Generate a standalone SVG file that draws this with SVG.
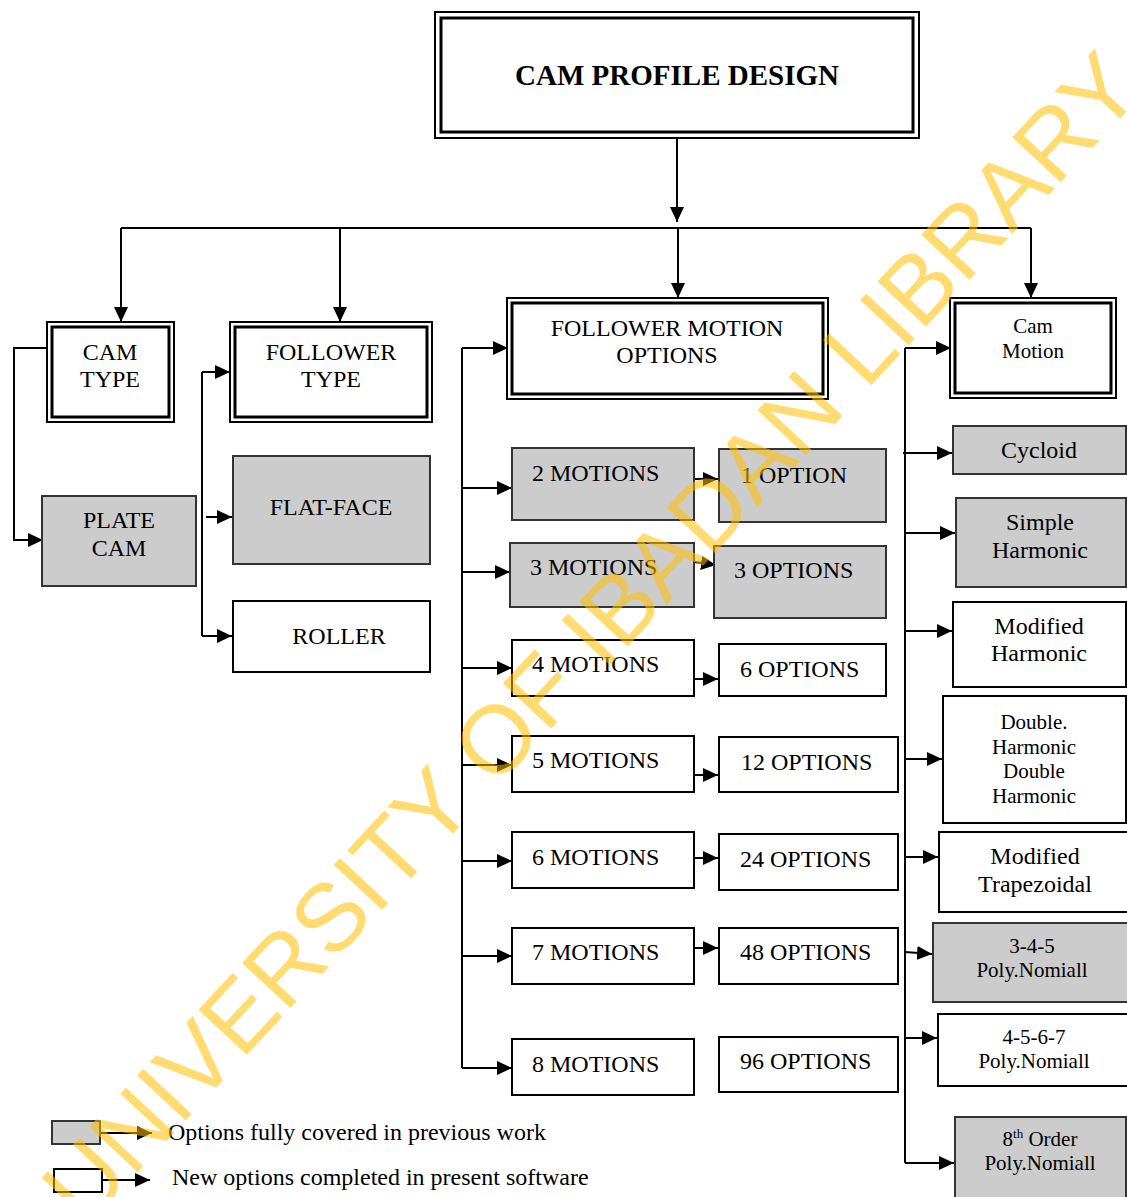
<svg xmlns="http://www.w3.org/2000/svg" width="1127" height="1197" viewBox="0 0 1127 1197">
<defs>
<style>
.t{font-family:"Liberation Serif","Times New Roman",serif;font-size:24px;fill:#000}
.s{font-family:"Liberation Serif","Times New Roman",serif;font-size:21px;fill:#000}
.m{text-anchor:middle}
.o{fill:#fff;stroke:#000;stroke-width:2}
.i{fill:none;stroke:#000;stroke-width:3}
.g{fill:#cccccc;stroke:#333;stroke-width:2}
.w{fill:#fff;stroke:#000;stroke-width:2}
.c{fill:none;stroke:#000;stroke-width:2}
.a{fill:none;stroke:#000;stroke-width:2;marker-end:url(#ah)}
</style>
<marker id="ah" markerUnits="userSpaceOnUse" markerWidth="16" markerHeight="14" refX="15" refY="7" orient="auto">
<path d="M0,0 L15,7 L0,14 z" fill="#000"/>
</marker>
</defs>
<rect width="1127" height="1197" fill="#fff"/>

<g id="connectors">
<path class="a" d="M677,139 V222"/>
<path class="c" d="M121,228 H1031"/>
<path class="a" d="M121,228 V322"/>
<path class="a" d="M340,228 V322"/>
<path class="a" d="M678,228 V298"/>
<path class="a" d="M1031,228 V298"/>
<path class="a" d="M47,348 H14 V540 H43"/>
<path class="c" d="M202,372 V636"/>
<path class="a" d="M202,372 H230"/>
<path class="a" d="M206,517 H232"/>
<path class="a" d="M202,636 H232"/>
<path class="c" d="M462,348 V1068"/>
<path class="a" d="M462,348 H508"/>
<path class="a" d="M462,488 H512"/>
<path class="a" d="M462,572 H510"/>
<path class="a" d="M462,668 H512"/>
<path class="a" d="M462,765 H512"/>
<path class="a" d="M462,861 H512"/>
<path class="a" d="M462,956 H512"/>
<path class="a" d="M462,1068 H512"/>
<path class="a" d="M694,479 H718"/>
<path class="a" d="M694,562 L716,565"/>
<path class="a" d="M694,679 H718"/>
<path class="a" d="M694,775 H718"/>
<path class="a" d="M694,858 H718"/>
<path class="a" d="M694,948 H718"/>
<path class="c" d="M905,348 V1163"/>
<path class="a" d="M905,348 H951"/>
<path class="a" d="M903,453 H952"/>
<path class="a" d="M905,533 H955"/>
<path class="a" d="M905,631 H952"/>
<path class="a" d="M905,759 H942"/>
<path class="a" d="M905,857 H938"/>
<path class="a" d="M905,952 L932,954"/>
<path class="a" d="M905,1038 H937"/>
<path class="a" d="M905,1163 H954"/>
<path class="a" d="M100,1133 H152"/>
<path class="a" d="M102,1180 H150"/>
</g>

<g id="n-title">
<rect class="o" x="435" y="12" width="484" height="126"/>
<rect class="i" x="441" y="18" width="472" height="114"/>
<text x="677" y="85" class="m" style="font-family:'Liberation Serif','Times New Roman',serif;font-size:29px;font-weight:bold">CAM PROFILE DESIGN</text>
</g>

<g id="n-camtype">
<rect class="o" x="47" y="322" width="127" height="100"/>
<rect class="i" x="52" y="327" width="117" height="90"/>
<text class="t m" x="110" y="360">CAM</text>
<text class="t m" x="110" y="387">TYPE</text>
</g>

<g id="n-followertype">
<rect class="o" x="230" y="322" width="202" height="100"/>
<rect class="i" x="235" y="327" width="192" height="90"/>
<text class="t m" x="331" y="360">FOLLOWER</text>
<text class="t m" x="331" y="387">TYPE</text>
</g>

<g id="n-fmo">
<rect class="o" x="507" y="298" width="321" height="101"/>
<rect class="i" x="512" y="303" width="311" height="91"/>
<text class="t m" x="667" y="336">FOLLOWER MOTION</text>
<text class="t m" x="667" y="363">OPTIONS</text>
</g>

<g id="n-cammotion">
<rect class="o" x="950" y="298" width="166" height="100"/>
<rect class="i" x="955" y="303" width="156" height="90"/>
<text class="s m" x="1033" y="333">Cam</text>
<text class="s m" x="1033" y="358">Motion</text>
</g>

<g id="n-platecam">
<rect class="g" x="42" y="496" width="154" height="90"/>
<text class="t m" x="119" y="528">PLATE</text>
<text class="t m" x="119" y="556">CAM</text>
</g>

<g id="n-flatface">
<rect class="g" x="233" y="456" width="197" height="108"/>
<text class="t m" x="331" y="515">FLAT-FACE</text>
</g>

<g id="n-roller">
<rect class="w" x="233" y="601" width="197" height="71"/>
<text class="t m" x="339" y="644">ROLLER</text>
</g>

<g id="n-m2">
<rect class="g" x="512" y="448" width="182" height="72"/>
<text class="t" x="532" y="481">2 MOTIONS</text>
</g>
<g id="n-o1">
<rect class="g" x="719" y="449" width="167" height="73"/>
<text class="t" x="741" y="483">1 OPTION</text>
</g>
<g id="n-m3">
<rect class="g" x="510" y="543" width="184" height="64"/>
<text class="t" x="530" y="575">3 MOTIONS</text>
</g>
<g id="n-o3">
<rect class="g" x="714" y="546" width="172" height="72"/>
<text class="t" x="734" y="578">3 OPTIONS</text>
</g>
<g id="n-m4">
<rect class="w" x="512" y="640" width="182" height="56"/>
<text class="t" x="532" y="672">4 MOTIONS</text>
</g>
<g id="n-o6">
<rect class="w" x="719" y="644" width="167" height="52"/>
<text class="t" x="740" y="677">6 OPTIONS</text>
</g>
<g id="n-m5">
<rect class="w" x="512" y="736" width="182" height="56"/>
<text class="t" x="532" y="768">5 MOTIONS</text>
</g>
<g id="n-o12">
<rect class="w" x="719" y="737" width="179" height="55"/>
<text class="t" x="741" y="770">12 OPTIONS</text>
</g>
<g id="n-m6">
<rect class="w" x="512" y="832" width="182" height="56"/>
<text class="t" x="532" y="865">6 MOTIONS</text>
</g>
<g id="n-o24">
<rect class="w" x="719" y="834" width="179" height="56"/>
<text class="t" x="740" y="867">24 OPTIONS</text>
</g>
<g id="n-m7">
<rect class="w" x="512" y="928" width="182" height="56"/>
<text class="t" x="532" y="960">7 MOTIONS</text>
</g>
<g id="n-o48">
<rect class="w" x="719" y="928" width="179" height="56"/>
<text class="t" x="740" y="960">48 OPTIONS</text>
</g>
<g id="n-m8">
<rect class="w" x="512" y="1039" width="182" height="56"/>
<text class="t" x="532" y="1072">8 MOTIONS</text>
</g>
<g id="n-o96">
<rect class="w" x="719" y="1037" width="179" height="55"/>
<text class="t" x="740" y="1069">96 OPTIONS</text>
</g>

<g id="n-cycloid">
<rect class="g" x="953" y="426" width="173" height="48"/>
<text class="t m" x="1039" y="458">Cycloid</text>
</g>
<g id="n-simple">
<rect class="g" x="956" y="498" width="170" height="89"/>
<text class="t m" x="1040" y="530">Simple</text>
<text class="t m" x="1040" y="558">Harmonic</text>
</g>
<g id="n-modharm">
<rect class="w" x="953" y="602" width="173" height="85"/>
<text class="t m" x="1039" y="634">Modified</text>
<text class="t m" x="1039" y="661">Harmonic</text>
</g>
<g id="n-double">
<rect class="w" x="943" y="696" width="183" height="127"/>
<text class="s m" x="1034" y="729">Double.</text>
<text class="s m" x="1034" y="754">Harmonic</text>
<text class="s m" x="1034" y="778">Double</text>
<text class="s m" x="1034" y="803">Harmonic</text>
</g>
<g id="n-trap">
<rect class="w" x="939" y="832" width="192" height="80"/>
<text class="t m" x="1035" y="864">Modified</text>
<text class="t m" x="1035" y="892">Trapezoidal</text>
</g>
<g id="n-345">
<rect class="g" x="933" y="923" width="198" height="79"/>
<text class="s m" x="1032" y="953">3-4-5</text>
<text class="s m" x="1032" y="977">Poly.Nomiall</text>
</g>
<g id="n-4567">
<rect class="w" x="938" y="1014" width="193" height="72"/>
<text class="s m" x="1034" y="1044">4-5-6-7</text>
<text class="s m" x="1034" y="1068">Poly.Nomiall</text>
</g>
<g id="n-8th">
<rect class="g" x="955" y="1117" width="171" height="90"/>
<text class="s m" x="1040" y="1146">8<tspan font-size="13" dy="-8">th</tspan><tspan dy="8"> Order</tspan></text>
<text class="s m" x="1040" y="1170">Poly.Nomiall</text>
</g>

<g id="legend">
<rect class="g" x="52" y="1121" width="48" height="23"/>
<text class="t" x="168" y="1140">Options fully covered in previous work</text>
<rect class="w" x="54" y="1169" width="48" height="23"/>
<text class="t" x="172" y="1185">New options completed in present software</text>
</g>

<g id="watermark">
<text x="615" y="660" transform="rotate(-47 615 660)" text-anchor="middle" style="font-family:'Liberation Sans',Arial,sans-serif;font-size:96px;fill:#FFC000;opacity:0.55">UNIVERSITY OF IBADAN LIBRARY</text>
</g>
</svg>
